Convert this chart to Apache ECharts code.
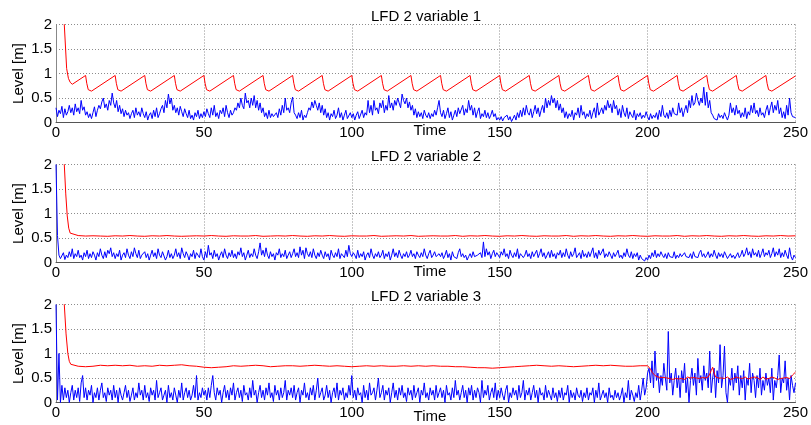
<!DOCTYPE html>
<html><head><meta charset="utf-8">
<script src="https://cdn.jsdelivr.net/npm/echarts@6/dist/echarts.min.js"></script>
<style>html,body{margin:0;padding:0;background:#fff}#c{width:811px;height:425px}</style>
</head><body><div id="c"></div>
<script>
const titles = ['LFD 2 variable 1', 'LFD 2 variable 2', 'LFD 2 variable 3'];
const xLabel = 'Time';
const yLabel = 'Level [m]';
const xTicks = [0, 50, 100, 150, 200, 250];
const yTicks = [0, 0.5, 1, 1.5, 2];
const blueStep = 0.5; // sample spacing of the blue series (time units)

const blue1 = [
.30,.12,.25,.18,.33,.10,.28,.15,.22,.35,.20,.30,.15,.38,.22,.30,.18,.45,.25,.32,
.15,.22,.10,.18,.08,.20,.32,.12,.25,.35,.28,.42,.50,.30,.38,.25,.45,.35,.60,.40,
.30,.45,.22,.35,.18,.28,.12,.25,.15,.20,.08,.18,.25,.10,.30,.15,.22,.12,.30,.18,
.10,.22,.05,.15,.20,.08,.25,.12,.30,.10,.18,.28,.35,.20,.45,.30,.58,.38,.50,.25,
.35,.20,.30,.15,.33,.22,.12,.28,.18,.10,.25,.08,.15,.05,.20,.12,.25,.08,.18,.10,
.22,.12,.28,.18,.10,.30,.15,.35,.12,.20,.08,.25,.18,.30,.12,.35,.20,.10,.25,.15,
.20,.30,.25,.40,.30,.50,.35,.28,.60,.40,.45,.30,.50,.35,.55,.30,.45,.25,.40,.20,
.30,.12,.20,.08,.25,.10,.18,.12,.15,.20,.10,.28,.15,.35,.20,.50,.25,.30,.20,.40,
.52,.20,.15,.08,.20,.10,.25,.05,.15,.10,.20,.30,.25,.42,.30,.45,.35,.25,.40,.20,
.35,.15,.28,.10,.20,.05,.18,.12,.25,.08,.15,.30,.10,.20,.05,.15,.25,.08,.12,.20,
.10,.18,.05,.15,.22,.08,.12,.25,.10,.20,.15,.45,.20,.35,.15,.45,.25,.30,.18,.40,
.30,.45,.20,.35,.25,.55,.30,.40,.25,.45,.35,.50,.40,.30,.58,.45,.38,.50,.30,.42,
.25,.35,.15,.28,.10,.22,.12,.20,.08,.25,.15,.10,.20,.08,.18,.12,.25,.15,.30,.45,
.20,.12,.25,.08,.18,.30,.10,.22,.05,.15,.25,.12,.30,.18,.20,.35,.15,.28,.20,.45,
.25,.35,.15,.30,.10,.22,.30,.08,.18,.12,.25,.10,.20,.08,.15,.25,.12,.18,.05,.10,
.05,.12,.03,.10,.08,.15,.05,.12,.02,.08,.15,.05,.20,.10,.25,.12,.30,.15,.35,.20,
.15,.28,.10,.22,.35,.18,.30,.12,.25,.35,.20,.50,.30,.45,.35,.55,.40,.50,.30,.45,
.25,.38,.20,.30,.10,.22,.08,.18,.12,.25,.05,.20,.15,.30,.10,.35,.15,.22,.08,.18,
.12,.25,.08,.20,.30,.10,.40,.15,.22,.30,.18,.35,.25,.45,.30,.38,.20,.45,.28,.35,
.15,.28,.10,.35,.20,.12,.30,.08,.22,.15,.10,.25,.05,.18,.12,.20,.08,.15,.10,.22,
.12,.05,.18,.08,.15,.10,.20,.06,.25,.12,.35,.15,.10,.20,.08,.25,.12,.30,.18,.22,
.15,.40,.20,.30,.12,.25,.35,.20,.45,.30,.55,.35,.40,.60,.45,.35,.50,.40,.72,.35,
.62,.30,.45,.20,.15,.08,.12,.05,.18,.10,.15,.08,.20,.12,.05,.15,.40,.20,.30,.15,
.35,.18,.25,.10,.20,.12,.30,.08,.22,.15,.35,.20,.40,.18,.25,.12,.30,.15,.20,.10,
.25,.35,.15,.30,.42,.20,.35,.25,.45,.18,.30,.10,.22,.08,.35,.15,.50,.20,.12,.08,
.10];

const blue2 = [
2.0,.55,.15,.08,.12,.20,.06,.15,.10,.22,.12,.28,.08,.18,.12,.25,.10,.15,.05,.20,
.12,.25,.08,.18,.10,.22,.15,.05,.20,.12,.28,.15,.08,.22,.10,.25,.18,.30,.12,.20,
.08,.18,.12,.25,.05,.15,.20,.10,.28,.15,.08,.22,.12,.30,.18,.10,.25,.08,.15,.12,
.22,.10,.18,.05,.15,.25,.12,.20,.08,.28,.15,.10,.22,.18,.05,.12,.25,.10,.18,.08,
.15,.28,.12,.20,.08,.30,.18,.10,.22,.15,.05,.18,.12,.25,.08,.20,.15,.10,.28,.12,
.05,.22,.10,.35,.15,.20,.08,.25,.12,.18,.05,.15,.22,.10,.28,.15,.08,.20,.12,.25,
.10,.18,.08,.22,.15,.30,.12,.20,.05,.15,.25,.10,.18,.12,.28,.15,.08,.22,.40,.15,
.25,.12,.30,.15,.08,.22,.12,.18,.05,.20,.15,.28,.10,.18,.12,.25,.08,.15,.22,.10,
.18,.28,.12,.20,.10,.32,.15,.25,.08,.30,.18,.12,.22,.10,.28,.15,.08,.20,.12,.25,
.15,.08,.22,.12,.18,.05,.25,.15,.10,.20,.12,.28,.08,.18,.15,.10,.25,.12,.35,.18,
.12,.20,.15,.08,.25,.10,.18,.12,.22,.05,.15,.20,.10,.28,.15,.08,.18,.12,.22,.10,
.15,.25,.08,.18,.12,.22,.05,.15,.28,.12,.20,.10,.25,.15,.08,.18,.12,.22,.10,.15,
.25,.12,.18,.08,.22,.15,.10,.20,.12,.28,.15,.08,.18,.25,.10,.15,.22,.12,.08,.18,
.12,.20,.08,.15,.25,.10,.18,.05,.22,.12,.15,.08,.20,.28,.12,.18,.10,.15,.05,.12,
.18,.10,.22,.12,.08,.15,.12,.20,.10,.42,.12,.28,.15,.22,.08,.18,.25,.12,.20,.15,
.10,.22,.15,.28,.12,.18,.08,.25,.15,.10,.20,.12,.28,.08,.18,.22,.10,.15,.25,.12,
.18,.08,.22,.12,.15,.25,.10,.18,.28,.12,.20,.08,.15,.22,.10,.25,.12,.18,.08,.20,
.15,.25,.10,.20,.12,.28,.15,.08,.22,.12,.18,.30,.10,.15,.20,.08,.25,.12,.18,.10,
.22,.12,.15,.30,.10,.20,.08,.25,.15,.12,.28,.10,.18,.12,.22,.15,.08,.20,.12,.18,
.25,.10,.15,.08,.20,.12,.28,.15,.10,.22,.08,.18,.12,.20,.05,.15,.08,.12,.03,.10,
.05,.15,.08,.20,.12,.25,.10,.18,.12,.22,.15,.10,.18,.08,.20,.12,.15,.10,.22,.08,
.15,.10,.18,.12,.08,.20,.12,.15,.10,.18,.08,.22,.12,.15,.10,.20,.25,.12,.18,.10,
.15,.22,.10,.18,.12,.25,.15,.08,.20,.12,.18,.10,.22,.15,.08,.12,.18,.10,.15,.08,
.12,.20,.10,.15,.25,.12,.18,.30,.15,.22,.10,.28,.15,.20,.12,.25,.10,.18,.28,.12,
.20,.15,.25,.10,.18,.30,.12,.22,.15,.28,.10,.20,.12,.25,.15,.08,.30,.12,.05,.15,
.10];

const blue3 = [
2.0,.05,1.0,.00,.35,.05,.30,.10,.25,.00,.20,.35,.05,.25,.10,.30,.02,.40,.55,.10,
.30,.05,.25,.15,.35,.00,.20,.10,.30,.05,.25,.40,.10,.20,.02,.30,.15,.25,.05,.35,
.10,.25,.00,.30,.15,.05,.20,.35,.10,.25,.02,.15,.30,.05,.20,.10,.40,.15,.25,.05,
.35,.10,.20,.02,.30,.15,.25,.05,.45,.10,.20,.30,.05,.15,.25,.00,.35,.10,.20,.05,
.30,.15,.00,.25,.10,.40,.05,.20,.30,.10,.25,.05,.15,.35,.10,.55,.05,.20,.10,.30,
.15,.25,.05,.30,.10,.35,.55,.20,.05,.30,.15,.25,.00,.20,.35,.10,.25,.05,.30,.15,
.40,.05,.20,.30,.10,.25,.02,.35,.15,.20,.05,.30,.10,.45,.15,.25,.00,.20,.35,.10,
.25,.05,.30,.15,.40,.10,.20,.02,.35,.15,.25,.05,.30,.10,.20,.45,.05,.25,.15,.30,
.10,.35,.05,.20,.30,.00,.25,.15,.40,.10,.20,.05,.30,.15,.35,.05,.25,.50,.10,.20,
.30,.05,.15,.35,.10,.25,.00,.20,.30,.10,.40,.05,.25,.15,.30,.05,.20,.10,.35,.15,
.55,.10,.25,.05,.30,.15,.20,.00,.35,.10,.25,.05,.40,.15,.20,.30,.05,.25,.50,.10,
.20,.35,.05,.25,.15,.30,.00,.20,.40,.10,.25,.05,.30,.15,.35,.10,.20,.02,.30,.15,
.25,.05,.35,.10,.20,.30,.00,.25,.15,.40,.10,.20,.05,.30,.15,.25,.05,.35,.10,.20,
.30,.10,.25,.00,.35,.15,.20,.05,.30,.10,.45,.15,.25,.05,.20,.35,.10,.25,.00,.30,
.15,.35,.05,.25,.10,.30,.20,.00,.45,.10,.25,.15,.35,.05,.20,.30,.10,.40,.05,.25,
.10,.30,.15,.05,.25,.35,.00,.20,.10,.30,.15,.25,.05,.35,.10,.20,.45,.05,.25,.15,
.30,.05,.20,.35,.10,.25,.00,.30,.15,.20,.05,.35,.10,.25,.15,.05,.30,.10,.20,.02,
.25,.10,.30,.05,.20,.15,.35,.00,.25,.10,.20,.05,.30,.15,.10,.25,.02,.20,.10,.30,
.05,.20,.15,.30,.00,.25,.10,.40,.05,.15,.25,.10,.20,.00,.30,.10,.15,.05,.25,.10,
.20,.05,.15,.30,.00,.20,.10,.45,.05,.25,.15,.02,.20,.10,.35,.05,.25,.50,.15,.30,
.60,.70,.40,.85,.30,1.05,.45,.60,.20,.55,.35,.80,.50,.25,1.45,.40,.60,.15,.45,.70,
.30,.55,.10,.65,.40,.80,.20,.50,.00,.45,.70,.35,.60,.15,.90,.40,.55,.25,.75,.45,
.60,.30,1.05,.20,.50,.70,.10,.65,.40,1.18,.30,.55,1.15,.20,.00,.50,.35,.70,.25,.60,
.40,.75,.15,.55,.30,.65,.05,.50,.35,.80,.20,.60,.45,.10,.55,.30,.70,.15,.45,.25,
.60,.35,.50,.20,.70,.05,.45,.30,.55,.97,.20,.50,.40,.85,.25,.50,.05,.55,.35,.20,
.40];

// red, panel 1: [time, level] pairs read from the sawtooth
const red1 = [
[0,3.4],[2.8,2],[3.6,1.1],[4.2,0.9],[4.8,0.82],[5.5,0.78],[10,0.96],
[10.4,0.8],[10.9,0.67],[11.4,0.63],[12,0.64],[20,0.96],
[20.4,0.8],[20.9,0.67],[21.4,0.63],[22,0.64],[30,0.96],
[30.4,0.8],[30.9,0.67],[31.4,0.63],[32,0.64],[40,0.96],
[40.4,0.8],[40.9,0.67],[41.4,0.63],[42,0.64],[50,0.96],
[50.4,0.8],[50.9,0.67],[51.4,0.63],[52,0.64],[60,0.96],
[60.4,0.8],[60.9,0.67],[61.4,0.63],[62,0.64],[70,0.96],
[70.4,0.8],[70.9,0.67],[71.4,0.63],[72,0.64],[80,0.96],
[80.4,0.8],[80.9,0.67],[81.4,0.63],[82,0.64],[90,0.96],
[90.4,0.8],[90.9,0.67],[91.4,0.63],[92,0.64],[100,0.96],
[100.4,0.8],[100.9,0.67],[101.4,0.63],[102,0.64],[110,0.96],
[110.4,0.8],[110.9,0.67],[111.4,0.63],[112,0.64],[120,0.96],
[120.4,0.8],[120.9,0.67],[121.4,0.63],[122,0.64],[130,0.96],
[130.4,0.8],[130.9,0.67],[131.4,0.63],[132,0.64],[140,0.96],
[140.4,0.8],[140.9,0.67],[141.4,0.63],[142,0.64],[150,0.96],
[150.4,0.8],[150.9,0.67],[151.4,0.63],[152,0.64],[160,0.96],
[160.4,0.8],[160.9,0.67],[161.4,0.63],[162,0.64],[170,0.96],
[170.4,0.8],[170.9,0.67],[171.4,0.63],[172,0.64],[180,0.96],
[180.4,0.8],[180.9,0.67],[181.4,0.63],[182,0.64],[190,0.96],
[190.4,0.8],[190.9,0.67],[191.4,0.63],[192,0.64],[200,0.96],
[200.4,0.8],[200.9,0.67],[201.4,0.63],[202,0.64],[210,0.96],
[210.4,0.8],[210.9,0.67],[211.4,0.63],[212,0.64],[220,0.96],
[220.4,0.8],[220.9,0.67],[221.4,0.63],[222,0.64],[230,0.96],
[230.4,0.8],[230.9,0.67],[231.4,0.63],[232,0.64],[240,0.96],
[240.4,0.8],[240.9,0.67],[241.4,0.63],[242,0.64],[250,0.95]];

// red, panel 2: start transient + samples every 2.5 from t=5
const red2Head = [[0,3.5],[2.8,2],[3.3,1.4],[3.8,0.95],[4.3,0.7],[4.8,0.6]];
const red2Tail = [
.56,.55,.54,.545,.54,.535,.545,.54,.55,.54,
.535,.545,.54,.55,.54,.535,.54,.545,.54,.55,
.54,.535,.545,.54,.54,.55,.535,.54,.545,.54,
.55,.54,.535,.545,.54,.55,.54,.535,.545,.54,
.54,.55,.535,.54,.545,.54,.55,.535,.54,.545,
.54,.54,.55,.535,.545,.54,.55,.54,.535,.545,
.54,.55,.54,.535,.545,.54,.54,.55,.535,.545,
.54,.55,.54,.535,.545,.54,.55,.54,.535,.545,
.54,.54,.55,.535,.545,.54,.55,.54,.535,.545,
.54,.55,.54,.535,.545,.54,.55,.54,.545];

// red, panel 3: start transient, samples every 2.5 from t=5 to 197.5, then every 0.5 from t=200
const red3Head = [[0,3.5],[2.8,2],[3.4,1.4],[4,1.0],[4.5,0.84]];
const red3Mid = [
.78,.74,.73,.74,.76,.75,.76,.75,.76,.74,
.75,.74,.76,.75,.76,.77,.75,.74,.72,.71,
.72,.73,.75,.74,.75,.76,.75,.73,.74,.75,
.75,.74,.75,.76,.75,.74,.75,.74,.73,.74,
.75,.74,.75,.74,.74,.75,.74,.75,.74,.75,
.74,.74,.73,.73,.72,.71,.71,.70,.71,.72,
.73,.74,.75,.76,.75,.74,.75,.74,.73,.74,
.75,.76,.75,.76,.75,.74,.74,.75];
const red3Tail = [
.75,.73,.68,.62,.58,.55,.53,.52,.50,.51,
.49,.51,.48,.50,.52,.49,.50,.47,.51,.49,
.52,.48,.50,.49,.51,.47,.50,.52,.48,.50,
.49,.51,.48,.50,.52,.49,.50,.51,.48,.50,
.49,.52,.58,.65,.72,.60,.52,.48,.50,.51,
.50,.51,.49,.48,.52,.50,.47,.51,.49,.50,
.52,.48,.50,.51,.49,.47,.52,.50,.48,.51,
.50,.49,.52,.48,.51,.50,.47,.49,.52,.50,
.48,.51,.49,.50,.52,.48,.50,.51,.47,.50,
.49,.52,.50,.48,.51,.50,.49,.53,.56,.60,
.62];

function onGrid(start, step, vals) { return vals.map((v, i) => [start + i * step, v]); }

const blueData = [blue1, blue2, blue3].map(a => onGrid(0, blueStep, a));
const redData = [
  red1,
  red2Head.concat(onGrid(5, 2.5, red2Tail)),
  red3Head.concat(onGrid(5, 2.5, red3Mid), onGrid(200, 0.5, red3Tail))
];

const FONT = 'Liberation Sans, Arial, sans-serif';
const tops = [24.5, 164.5, 304.5];
const plotH = 98, plotL = 56, plotW = 740;

const grids = [], xAxes = [], yAxes = [], series = [], graphics = [];
const split = { show: true, lineStyle: { color: '#8c8c8c', width: 1, type: [1, 2] } };
tops.forEach((top, i) => {
  grids.push({ left: plotL, top: top, width: plotW, height: plotH });
  xAxes.push({
    type: 'value', gridIndex: i, min: xTicks[0], max: xTicks[xTicks.length - 1], interval: xTicks[1] - xTicks[0],
    axisLine: { show: true, onZero: false, lineStyle: { color: '#555', width: 1 } },
    axisTick: { show: false },
    axisLabel: { color: '#000', fontFamily: FONT, fontSize: 15, margin: 3 },
    splitLine: split
  });
  yAxes.push({
    type: 'value', gridIndex: i, min: yTicks[0], max: yTicks[yTicks.length - 1], interval: yTicks[1] - yTicks[0],
    axisLine: { show: true, onZero: false, lineStyle: { color: '#888', width: 1 } },
    axisTick: { show: false },
    axisLabel: { color: '#000', fontFamily: FONT, fontSize: 15, margin: 4 },
    splitLine: split
  });
  series.push({
    type: 'line', xAxisIndex: i, yAxisIndex: i, data: blueData[i], showSymbol: false, symbol: 'none',
    lineStyle: { color: '#0000ff', width: 1 }, animation: false, clip: true
  });
  series.push({
    type: 'line', xAxisIndex: i, yAxisIndex: i, data: redData[i], showSymbol: false, symbol: 'none',
    lineStyle: { color: '#ff0000', width: 1 }, animation: false, clip: true
  });
  graphics.push({ type: 'text', x: plotL + plotW / 2, y: top - 7.5, style: { text: titles[i], font: '15px ' + FONT, fill: '#000', textAlign: 'center', textVerticalAlign: 'middle' } });
  graphics.push({ type: 'text', x: 430, y: [131, 271.5, 416.5][i], style: { text: xLabel, font: '15px ' + FONT, fill: '#000', textAlign: 'center', textVerticalAlign: 'middle' } });
  graphics.push({ type: 'text', x: 19, y: top + plotH / 2, rotation: Math.PI / 2, style: { text: yLabel, font: '15px ' + FONT, fill: '#000', textAlign: 'center', textVerticalAlign: 'middle' } });
});

const chart = echarts.init(document.getElementById('c'), null, { renderer: 'canvas' });
chart.setOption({
  animation: false,
  backgroundColor: '#fff',
  grid: grids, xAxis: xAxes, yAxis: yAxes, series: series, graphic: graphics
});
</script>
</body></html>
